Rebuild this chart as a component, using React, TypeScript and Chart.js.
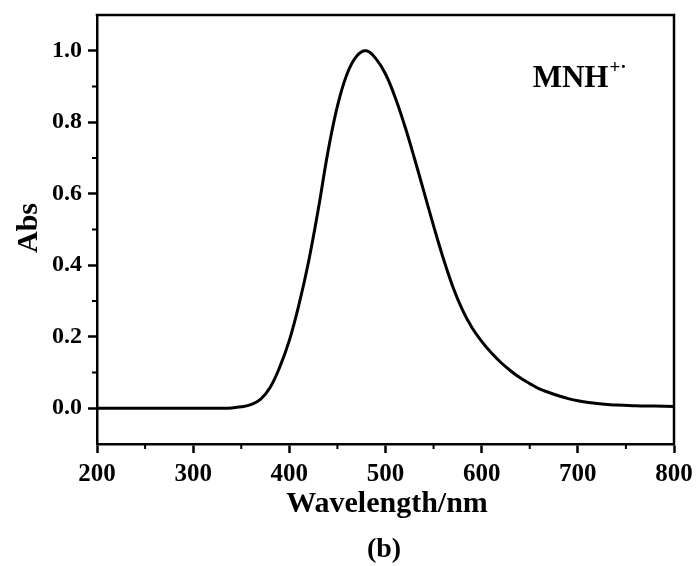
import React, { useEffect, useRef } from "react";
import { Chart, registerables } from "chart.js";

Chart.register(...registerables);

// ---- data ----
const wavelengths = [
  200, 210, 220, 230, 240, 250, 260, 270, 280, 290, 300, 310, 320, 330, 340, 350, 360, 370, 380, 390,
  400, 410, 420, 430, 440, 450, 460, 470, 480, 490, 500, 510, 520, 530, 540, 550, 560, 570, 580, 590,
  600, 610, 620, 630, 640, 650, 660, 670, 680, 690, 700, 720, 740, 760, 780, 800,
];
const absorbance = [
  0, 0, 0, 0, 0, 0, 0, 0, 0, 0, 0, 0, 0, 0, 0.001, 0.004, 0.01, 0.025, 0.058, 0.115,
  0.19, 0.29, 0.41, 0.555, 0.715, 0.845, 0.935, 0.985, 1.0, 0.978, 0.935, 0.87, 0.79, 0.7, 0.605, 0.51, 0.42, 0.34, 0.275, 0.225,
  0.187, 0.155, 0.128, 0.105, 0.085, 0.069, 0.054, 0.044, 0.035, 0.027, 0.021, 0.013, 0.009, 0.007, 0.006, 0.005,
];
const xMajorTicks = [200, 300, 400, 500, 600, 700, 800];
const xMinorTicks = [250, 350, 450, 550, 650, 750];
const yMajorTicks = [0, 0.2, 0.4, 0.6, 0.8, 1.0];
const yMinorTicks = [0.1, 0.3, 0.5, 0.7, 0.9];
const xTitle = "Wavelength/nm";
const yTitle = "Abs";
const speciesName = "MNH";
const speciesCharge = "+·";
const panelLabel = "(b)";

const FONT = '"Liberation Serif", "Times New Roman", serif';

export default function App() {
  const ref = useRef<HTMLCanvasElement>(null);

  useEffect(() => {
    if (!ref.current) return;

    const decor = {
      id: "decor",
      afterDraw(chart: any) {
        const { ctx, chartArea: a, scales } = chart;
        const xs = scales.x;
        const ys = scales.y;
        ctx.save();
        ctx.strokeStyle = "#000";
        ctx.lineCap = "butt";
        // top and right frame
        ctx.lineWidth = 2.5;
        ctx.beginPath();
        ctx.moveTo(a.left - 1.25, a.top);
        ctx.lineTo(a.right, a.top);
        ctx.lineTo(a.right, a.bottom + 1.25);
        ctx.stroke();
        // minor ticks
        ctx.lineWidth = 2;
        ctx.beginPath();
        for (const v of xMinorTicks) {
          const px = xs.getPixelForValue(v);
          ctx.moveTo(px, a.bottom);
          ctx.lineTo(px, a.bottom + 5);
        }
        for (const v of yMinorTicks) {
          const py = ys.getPixelForValue(v);
          ctx.moveTo(a.left, py);
          ctx.lineTo(a.left - 5, py);
        }
        ctx.stroke();

        ctx.fillStyle = "#000";
        // x title
        ctx.font = `bold 30px ${FONT}`;
        ctx.textAlign = "center";
        ctx.textBaseline = "alphabetic";
        ctx.fillText(xTitle, 387, 512);
        // y title
        ctx.save();
        ctx.translate(37, 228);
        ctx.rotate(-Math.PI / 2);
        ctx.fillText(yTitle, 0, 0);
        ctx.restore();
        // panel label
        ctx.font = `bold 28px ${FONT}`;
        ctx.fillText(panelLabel, 384, 557);
        // species annotation
        ctx.textAlign = "left";
        ctx.font = `bold 31px ${FONT}`;
        const tx = xs.getPixelForValue(653);
        const ty = ys.getPixelForValue(0.9);
        ctx.fillText(speciesName, tx, ty);
        const w = ctx.measureText(speciesName).width;
        ctx.font = `bold 19px ${FONT}`;
        ctx.fillText(speciesCharge, tx + w + 1, ty - 14);
        ctx.restore();
      },
    };

    const chart = new Chart(ref.current, {
      type: "line",
      data: {
        labels: wavelengths,
        datasets: [
          {
            data: wavelengths.map((w, i) => ({ x: w, y: absorbance[i] })),
            borderColor: "#000",
            borderWidth: 3,
            pointRadius: 0,
            fill: false,
            tension: 0.4,
          },
        ],
      },
      options: {
        animation: false,
        responsive: true,
        maintainAspectRatio: false,
        layout: { padding: { top: 15, right: 23, left: 0, bottom: 0 } },
        plugins: { legend: { display: false }, tooltip: { enabled: false } },
        scales: {
          x: {
            type: "linear",
            min: 200,
            max: 800,
            afterBuildTicks: (s: any) => {
              s.ticks = xMajorTicks.map((v) => ({ value: v }));
            },
            afterFit: (s: any) => {
              s.height = 122;
              s.paddingLeft = 0;
              s.paddingRight = 0;
            },
            ticks: {
              color: "#000",
              font: { family: FONT, size: 25, weight: "bold" },
              padding: 7,
              maxRotation: 0,
              autoSkip: false,
              callback: (v: any) => String(v),
            },
            grid: {
              drawOnChartArea: false,
              drawTicks: true,
              tickLength: 9,
              tickWidth: 2.5,
              tickColor: "#000",
            },
            border: { color: "#000", width: 2.5 },
          },
          y: {
            type: "linear",
            min: -0.1,
            max: 1.1,
            afterBuildTicks: (s: any) => {
              s.ticks = yMajorTicks.map((v) => ({ value: v }));
            },
            afterFit: (s: any) => {
              s.width = 97;
              s.paddingTop = 0;
              s.paddingBottom = 0;
            },
            ticks: {
              color: "#000",
              font: { family: FONT, size: 24, weight: "bold" },
              padding: 6,
              autoSkip: false,
              callback: (v: any) => Number(v).toFixed(1),
            },
            grid: {
              drawOnChartArea: false,
              drawTicks: true,
              tickLength: 9,
              tickWidth: 2.5,
              tickColor: "#000",
            },
            border: { color: "#000", width: 2.5 },
          },
        },
      },
      plugins: [decor],
    } as any);

    return () => chart.destroy();
  }, []);

  return (
    <div style={{ position: "fixed", left: 0, top: 0, width: 697, height: 566, background: "#fff" }}>
      <canvas ref={ref} />
    </div>
  );
}
